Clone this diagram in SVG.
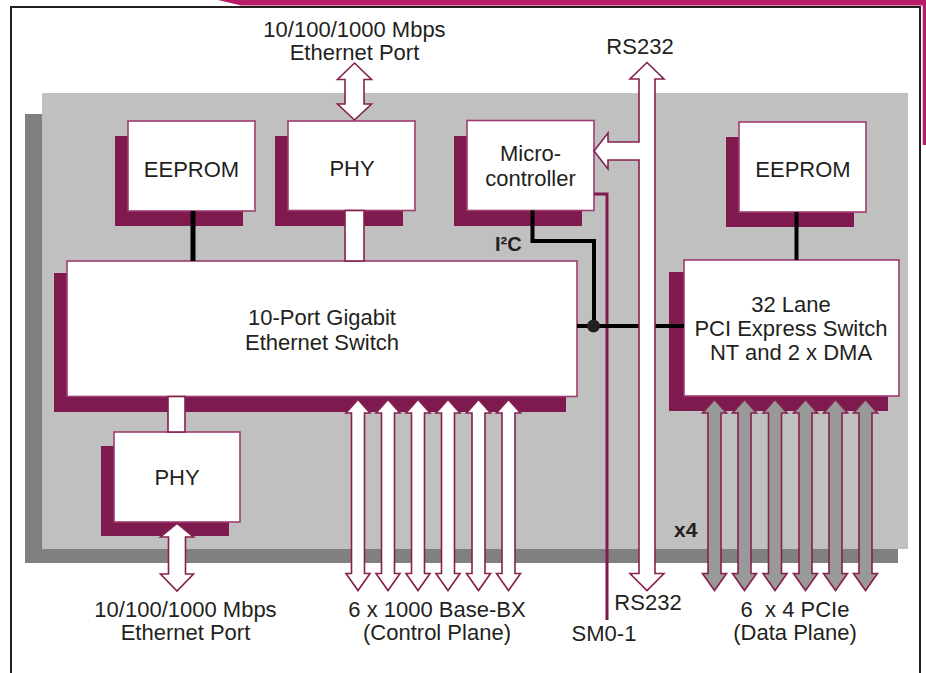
<svg xmlns="http://www.w3.org/2000/svg" width="926" height="673" viewBox="0 0 926 673">
<defs>
<style>
text{font-family:"Liberation Sans",Arial,sans-serif;font-size:22px;fill:#231F20;text-anchor:middle;white-space:pre}
.b{font-weight:bold;font-size:20px;text-anchor:start}
.sh{fill:#7F1A4E}
.bx{fill:#fff;stroke:#9E3D71;stroke-width:1.6}
.ar{fill:#fff;stroke:#86204F;stroke-width:1.6;stroke-linejoin:miter}
.arg{fill:#999;stroke:#86204F;stroke-width:1.6;stroke-linejoin:miter}
.wire{fill:none;stroke:#000;stroke-width:4}
</style>
<path id="bx" d="M0,0 L12,13.5 L6.5,13.5 L6.5,174 L12,174 L0,191 L-12,174 L-6.5,174 L-6.5,13.5 L-12,13.5 Z"/>
</defs>
<rect width="926" height="673" fill="#fff"/>
<g id="frame">
<polygon points="218,0 926,0 926,5.5 241,5.5" fill="#B81E68"/>
<rect x="922.7" y="0" width="3.3" height="145" fill="#B81E68"/>
<path d="M11,673 V7 H920 V673" fill="none" stroke="#231F20" stroke-width="2"/>
</g>
<g id="panel">
<rect x="25" y="114" width="873" height="449" fill="#808080"/>
<rect x="42" y="93" width="866" height="456" fill="#C0C0C0"/>
</g>
<g id="eeprom-left">
<rect class="sh" x="115" y="136" width="128" height="90"/>
<rect class="bx" x="128" y="121" width="127" height="90"/>
<text x="191.5" y="176.5">EEPROM</text>
</g>
<g id="phy-top">
<rect class="sh" x="275" y="136" width="128" height="90"/>
<rect class="bx" x="288" y="121" width="127" height="89.5"/>
<text x="352" y="175.5">PHY</text>
</g>
<g id="microcontroller">
<rect class="sh" x="454" y="136" width="128" height="90"/>
<rect class="bx" x="467" y="120.5" width="127" height="90"/>
<text x="530.5" y="161">Micro-</text>
<text x="530.5" y="185.5">controller</text>
</g>
<g id="eeprom-right">
<rect class="sh" x="726" y="137" width="128" height="90"/>
<rect class="bx" x="739" y="122" width="127" height="90"/>
<text x="803" y="176.5">EEPROM</text>
</g>
<g id="ethernet-switch">
<rect class="sh" x="54" y="273" width="512" height="139"/>
<rect class="bx" x="67" y="261" width="510" height="135.5"/>
<text x="322" y="325">10-Port Gigabit</text>
<text x="322" y="349.5">Ethernet Switch</text>
</g>
<g id="pcie-switch">
<rect class="sh" x="669" y="272" width="219" height="139"/>
<rect class="bx" x="684" y="260" width="215" height="136"/>
<text x="791" y="311.5">32 Lane</text>
<text x="791" y="336">PCI Express Switch</text>
<text x="791" y="360">NT and 2 x DMA</text>
</g>
<g id="phy-bottom">
<rect class="sh" x="101" y="446" width="128" height="90"/>
<rect class="bx" x="114" y="432" width="126" height="90"/>
<text x="177" y="485">PHY</text>
</g>
<g id="connectors">
<line x1="193" y1="211" x2="193" y2="261" stroke="#000" stroke-width="5"/>
<line x1="796.5" y1="212" x2="796.5" y2="260" stroke="#000" stroke-width="4"/>
<path d="M594,194 H607 V620" fill="none" stroke="#7F1A4E" stroke-width="3"/>
<path class="wire" d="M532.5,210.5 V241 H594 V326"/>
<line class="wire" x1="577" y1="326" x2="684" y2="326"/>
<circle cx="593.5" cy="326" r="6.5" fill="#231F20"/>
<rect class="ar" x="345" y="210.5" width="19" height="50.5"/>
<rect class="ar" x="168" y="396.5" width="17" height="35.5"/>
<path class="ar" d="M354.5,63 L371.5,79.5 L364,79.5 L364,104 L371.5,104 L354.5,120 L337.5,104 L345,104 L345,79.5 L337.5,79.5 Z"/>
<path class="ar" d="M177,523.5 L193.5,537 L185.5,537 L185.5,574 L193.5,574 L177,591 L160.5,574 L168.5,574 L168.5,537 L160.5,537 Z"/>
<path class="ar" d="M647,62.5 L664,79 L655,79 L655,573.5 L664,573.5 L647,590.5 L630,573.5 L639,573.5 L639,160 L608,160 L608,169 L594,151 L608,133 L608,142 L639,142 L639,79 L630,79 Z"/>
<use href="#bx" class="ar" x="358" y="399.5"/>
<use href="#bx" class="ar" x="388" y="399.5"/>
<use href="#bx" class="ar" x="418" y="399.5"/>
<use href="#bx" class="ar" x="448" y="399.5"/>
<use href="#bx" class="ar" x="478.5" y="399.5"/>
<use href="#bx" class="ar" x="508.5" y="399.5"/>
<use href="#bx" class="arg" x="714.5" y="399.5"/>
<use href="#bx" class="arg" x="744.5" y="399.5"/>
<use href="#bx" class="arg" x="775" y="399.5"/>
<use href="#bx" class="arg" x="805.5" y="399.5"/>
<use href="#bx" class="arg" x="835.5" y="399.5"/>
<use href="#bx" class="arg" x="865.5" y="399.5"/>
</g>
<g id="labels">
<text x="354.5" y="36.5">10/100/1000 Mbps</text>
<text x="354.5" y="59.5">Ethernet Port</text>
<text x="640" y="54">RS232</text>
<text class="b" x="495" y="251">I²C</text>
<text class="b" x="674" y="536.5" style="font-size:21px">x4</text>
<text x="185.5" y="617">10/100/1000 Mbps</text>
<text x="185.5" y="640">Ethernet Port</text>
<text x="437" y="617">6 x 1000 Base-BX</text>
<text x="437" y="640">(Control Plane)</text>
<text x="648" y="610">RS232</text>
<text x="604" y="641">SM0-1</text>
<text x="795" y="617">6  x 4 PCIe</text>
<text x="795" y="640">(Data Plane)</text>
</g>
</svg>
